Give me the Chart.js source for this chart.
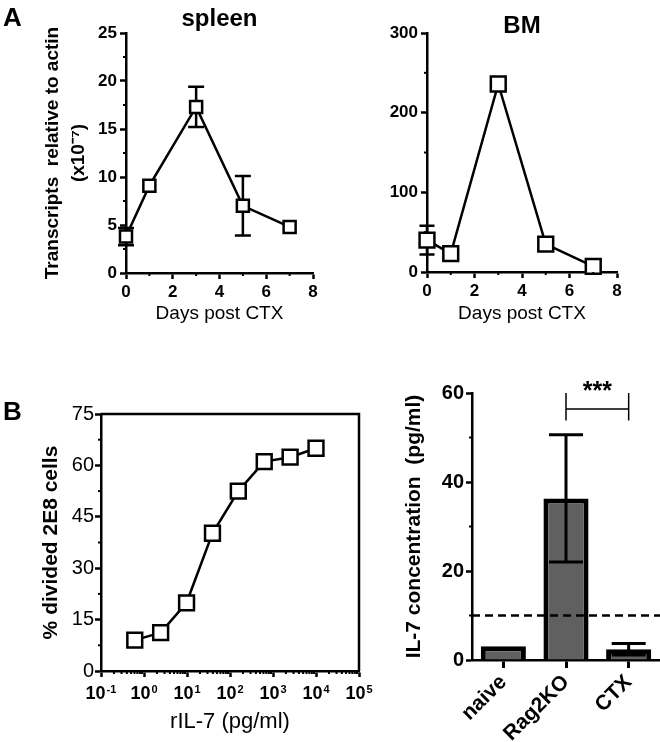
<!DOCTYPE html>
<html><head><meta charset="utf-8">
<script src="https://cdn.jsdelivr.net/npm/chart.js@4/dist/chart.umd.min.js"></script>
<style>
html,body{margin:0;padding:0;background:#fff;width:660px;height:742px;overflow:hidden}
.box{position:absolute}
</style></head><body>
<div class="box" style="left:0;top:0;width:330px;height:345px"><canvas id="c1"></canvas></div>
<div class="box" style="left:330px;top:0;width:330px;height:345px"><canvas id="c2"></canvas></div>
<div class="box" style="left:0;top:360px;width:385px;height:382px"><canvas id="c3"></canvas></div>
<div class="box" style="left:385px;top:360px;width:275px;height:382px"><canvas id="c4"></canvas></div>
<script>
// ---------- data ----------
const days = [0, 1, 3, 5, 7];
const spleenMean = [3.8, 9.1, 17.3, 7.0, 4.8];
const spleenErr = [0.9, 0, 2.1, 3.1, 0];
const bmMean = [40, 23, 236, 35, 7];
const bmErr = [18, 0, 0, 0, 0];
const il7Conc = [0.61, 2.44, 9.77, 39.1, 156, 625, 2500, 10000];
const dividedPct = [9.0, 11.2, 19.9, 40.2, 52.5, 61.1, 62.4, 65.0];
const groups = ['naive', 'Rag2KO', 'CTX'];
const il7Mean = [3.1, 36.3, 2.4];
const il7Err = [0, 14.3, 1.3];
const detectionLimit = 10;
const sigPair = [1, 2];
const sigLevels = [60, 53.8, 56.4];
const sigText = '***';
// ticks
const spleenYTicks = [0, 5, 10, 15, 20, 25];
const spleenYMinor = [2.5, 7.5, 12.5, 17.5, 22.5];
const dayTicks = [0, 2, 4, 6, 8];
const dayMinor = [1, 3, 5, 7];
const bmYTicks = [0, 100, 200, 300];
const bmYMinor = [50, 150, 250];
const pctTicks = [0, 15, 30, 45, 60, 75];
const pctMinor = [7.5, 22.5, 37.5, 52.5, 67.5];
const logTicks = [0.1, 1, 10, 100, 1000, 10000, 100000];
const logTickExps = ['-1', '0', '1', '2', '3', '4', '5'];
const il7YTicks = [0, 20, 40, 60];
const il7YMinor = [10, 30, 50];

const FONT = '"Liberation Sans", Arial, Helvetica, sans-serif';
Chart.defaults.font.family = FONT;
Chart.defaults.color = '#000';

const logMinor = [];
for (let i = 0; i < logTicks.length - 1; i++) for (let k = 2; k <= 9; k++) logMinor.push(logTicks[i] * k);

function drawErrors(chart, o) {
  if (!o.err) return;
  const ctx = chart.ctx, meta = chart.getDatasetMeta(0), ys = chart.scales.y;
  const vals = chart.data.datasets[0].data;
  ctx.save(); ctx.strokeStyle = '#000'; ctx.lineWidth = o.errWidth; ctx.lineCap = 'butt';
  meta.data.forEach((el, i) => {
    const e = o.err[i]; if (!e) return;
    const v = (typeof vals[i] === 'object') ? vals[i].y : vals[i];
    const x = el.x, y1 = ys.getPixelForValue(v + e), y0 = ys.getPixelForValue(v - e), h = o.cap / 2;
    ctx.beginPath();
    ctx.moveTo(x, y1); ctx.lineTo(x, y0);
    ctx.moveTo(x - h, y1); ctx.lineTo(x + h, y1);
    ctx.moveTo(x - h, y0); ctx.lineTo(x + h, y0);
    ctx.stroke();
  });
  ctx.restore();
}

const deco = {
  id: 'deco',
  beforeDatasetsDraw(chart, a, o) { if (o.behind) drawErrors(chart, o); },
  afterDatasetsDraw(chart, a, o) {
    if (!o.behind) drawErrors(chart, o);
    const ctx = chart.ctx, ca = chart.chartArea, xs = chart.scales.x, ys = chart.scales.y;
    ctx.save(); ctx.strokeStyle = '#000'; ctx.fillStyle = '#000';
    // minor ticks
    ctx.lineWidth = 2;
    (o.minorX || []).forEach(v => { const x = xs.getPixelForValue(v); ctx.beginPath(); ctx.moveTo(x, ca.bottom); ctx.lineTo(x, ca.bottom + o.minorLen); ctx.stroke(); });
    (o.minorY || []).forEach(v => { const y = ys.getPixelForValue(v); ctx.beginPath(); ctx.moveTo(ca.left, y); ctx.lineTo(ca.left - o.minorLen, y); ctx.stroke(); });
    // frame
    if (o.frame) {
      ctx.lineWidth = 2.5; ctx.beginPath();
      ctx.moveTo(ca.left, ca.top); ctx.lineTo(ca.right, ca.top); ctx.lineTo(ca.right, ca.bottom); ctx.stroke();
    }
    // power-of-ten tick labels
    if (o.powTicks) {
      ctx.textBaseline = 'alphabetic'; ctx.textAlign = 'left';
      const bf = 'bold 18px ' + FONT, sf = 'bold 11px ' + FONT;
      o.powTicks.forEach((v, i) => {
        const x = xs.getPixelForValue(v), exp = o.powExps[i];
        ctx.font = bf; const wb = ctx.measureText('10').width;
        ctx.font = sf; const ws = ctx.measureText(exp).width;
        const x0 = x - (wb + 1 + ws) / 2, base = ca.bottom + o.powDy;
        ctx.font = bf; ctx.fillText('10', x0, base);
        ctx.font = sf; ctx.fillText(exp, x0 + wb + 1, base - 6);
      });
    }
    // dashed reference line
    if (o.hline != null) {
      const y = ys.getPixelForValue(o.hline);
      ctx.lineWidth = 2.5; ctx.setLineDash([8, 5]);
      ctx.beginPath(); ctx.moveTo(ca.left, y); ctx.lineTo(ca.right, y); ctx.stroke();
      ctx.setLineDash([]);
    }
    // significance bracket
    if (o.pair) {
      const x1 = xs.getPixelForValue(o.pair[0]), x2 = xs.getPixelForValue(o.pair[1]);
      const yt = ys.getPixelForValue(o.levels[0]), yb = ys.getPixelForValue(o.levels[1]), ym = ys.getPixelForValue(o.levels[2]);
      ctx.lineWidth = 1.5; ctx.beginPath();
      ctx.moveTo(x1, yt); ctx.lineTo(x1, yb); ctx.moveTo(x2, yt); ctx.lineTo(x2, yb);
      ctx.moveTo(x1, ym); ctx.lineTo(x2, ym); ctx.stroke();
      ctx.font = 'bold 25px ' + FONT; ctx.textAlign = 'center'; ctx.textBaseline = 'alphabetic';
      ctx.fillText(o.sig, (x1 + x2) / 2, yt + 6);
    }
    // panel title
    if (o.title) {
      ctx.font = 'bold 24px ' + FONT; ctx.textAlign = 'center'; ctx.textBaseline = 'alphabetic';
      ctx.fillText(o.title, (ca.left + ca.right) / 2, ca.top + o.titleDy);
    }
    if (o.letter) {
      ctx.font = 'bold 26px ' + FONT; ctx.textAlign = 'left'; ctx.textBaseline = 'alphabetic';
      ctx.fillText(o.letter, o.letterX, o.letterY);
    }
    ctx.restore();
  }
};
Chart.register(deco);

function axisStyle(extra) {
  return Object.assign({
    border: { color: '#000', width: 2.5 },
    grid: { display: true, drawOnChartArea: false, drawTicks: true, tickLength: 6, tickWidth: 2.5, tickColor: '#000', color: '#000' }
  }, extra);
}

function lineChart(id, yVals, opts) {
  return new Chart(document.getElementById(id), {
    type: 'line',
    data: { datasets: [{
      data: opts.xVals.map((x, i) => ({ x: x, y: yVals[i] })),
      borderColor: '#000', borderWidth: 2.5, tension: 0, clip: false,
      pointStyle: 'rect', pointRadius: opts.r, pointHoverRadius: opts.r,
      pointBackgroundColor: '#fff', pointBorderColor: '#000', pointBorderWidth: 2.5
    }] },
    options: {
      responsive: true, maintainAspectRatio: false, animation: false,
      layout: { padding: opts.padding },
      plugins: { legend: { display: false }, tooltip: { enabled: false }, deco: opts.deco },
      scales: { x: opts.x, y: opts.y }
    }
  });
}

// ---- spleen ----
lineChart('c1', spleenMean, {
  xVals: days, r: 8.5,
  padding: { top: 33, right: 17, left: 0, bottom: 0 },
  deco: { behind: true, err: spleenErr, errWidth: 2.5, cap: 16, minorX: dayMinor, minorY: spleenYMinor, minorLen: 3, title: 'spleen', titleDy: -7, letter: 'A', letterX: 3, letterY: 26 },
  x: axisStyle({ type: 'linear', min: 0, max: 8, afterFit: s => { s.height = 72; },
    afterBuildTicks: s => { s.ticks = dayTicks.map(v => ({ value: v })); },
    ticks: { font: { size: 17, weight: 'bold' }, padding: 3 },
    title: { display: true, text: 'Days post CTX', font: { size: 19 }, padding: { top: 0, bottom: 20 } } }),
  y: axisStyle({ type: 'linear', min: 0, max: 25, afterFit: s => { s.width = 126; },
    afterBuildTicks: s => { s.ticks = spleenYTicks.map(v => ({ value: v })); },
    ticks: { font: { size: 17, weight: 'bold' }, padding: 3 },
    title: { display: true, text: ['Transcripts  relative to actin', '(x10⁻⁷)'], font: { size: 19, weight: 'bold', lineHeight: 1.4 }, padding: { top: 39, bottom: 0 } } })
});

// ---- BM ----
lineChart('c2', bmMean, {
  xVals: days, r: 10.5,
  padding: { top: 33, right: 43, left: 0, bottom: 0 },
  deco: { behind: true, err: bmErr, errWidth: 2.5, cap: 15, minorX: dayMinor, minorY: bmYMinor, minorLen: 3, title: 'BM', titleDy: 0 },
  x: axisStyle({ type: 'linear', min: 0, max: 8, afterFit: s => { s.height = 73; },
    afterBuildTicks: s => { s.ticks = dayTicks.map(v => ({ value: v })); },
    ticks: { font: { size: 17, weight: 'bold' }, padding: 3 },
    title: { display: true, text: 'Days post CTX', font: { size: 19 }, padding: { top: 0, bottom: 20 } } }),
  y: axisStyle({ type: 'linear', min: 0, max: 300, afterFit: s => { s.width = 97; },
    afterBuildTicks: s => { s.ticks = bmYTicks.map(v => ({ value: v })); },
    ticks: { font: { size: 17, weight: 'bold' }, padding: 3 } })
});

// ---- rIL-7 dose response ----
lineChart('c3', dividedPct, {
  xVals: il7Conc, r: 10.5,
  padding: { top: 54, right: 26, left: 0, bottom: 0 },
  deco: { behind: true, frame: true, minorX: logMinor, minorY: pctMinor, minorLen: 3, letter: 'B', letterX: 3, letterY: 60,
    powTicks: logTicks, powExps: logTickExps, powDy: 28 },
  x: axisStyle({ type: 'logarithmic', min: 0.1, max: 100000, afterFit: s => { s.height = 71; },
    afterBuildTicks: s => { s.ticks = logTicks.map(v => ({ value: v })); },
    ticks: { display: false, autoSkip: false, maxRotation: 0 },
    title: { display: true, text: 'rIL-7 (pg/ml)', font: { size: 22 }, padding: { top: 0, bottom: 7 } } }),
  y: axisStyle({ type: 'linear', min: 0, max: 75, afterFit: s => { s.width = 101; },
    afterBuildTicks: s => { s.ticks = pctTicks.map(v => ({ value: v })); },
    ticks: { font: { size: 20 }, padding: 1 },
    title: { display: true, text: '% divided 2E8 cells', font: { size: 21, weight: 'bold' }, padding: { top: 39, bottom: 0 } } })
});

// ---- IL-7 concentration bars ----
new Chart(document.getElementById('c4'), {
  type: 'bar',
  data: { labels: groups, datasets: [{
    data: il7Mean, backgroundColor: '#606060', borderColor: '#000', borderWidth: 5,
    barPercentage: 0.72, categoryPercentage: 1
  }] },
  options: {
    responsive: true, maintainAspectRatio: false, animation: false,
    layout: { padding: { top: 33, right: 0, left: 0, bottom: 0 } },
    plugins: { legend: { display: false }, tooltip: { enabled: false },
      deco: { behind: false, err: il7Err, errWidth: 3, cap: 34, minorY: il7YMinor, minorLen: 3,
        hline: detectionLimit, pair: sigPair, levels: sigLevels, sig: sigText } },
    scales: {
      x: axisStyle({ type: 'category', offset: true, afterFit: s => { s.height = 82; },
        grid: { display: true, offset: false, drawOnChartArea: false, tickLength: 8, tickWidth: 3, tickColor: '#000' },
        ticks: { font: { size: 21, weight: 'bold' }, minRotation: 45, maxRotation: 45, padding: 2 } }),
      y: axisStyle({ type: 'linear', min: 0, max: 60, afterFit: s => { s.width = 87; },
        afterBuildTicks: s => { s.ticks = il7YTicks.map(v => ({ value: v })); },
        ticks: { font: { size: 20, weight: 'bold' }, padding: 2 },
        title: { display: true, text: 'IL-7 concentration  (pg/ml)', font: { size: 21, weight: 'bold' }, padding: { top: 17, bottom: 0 } } })
    }
  }
});
</script>
</body></html>
